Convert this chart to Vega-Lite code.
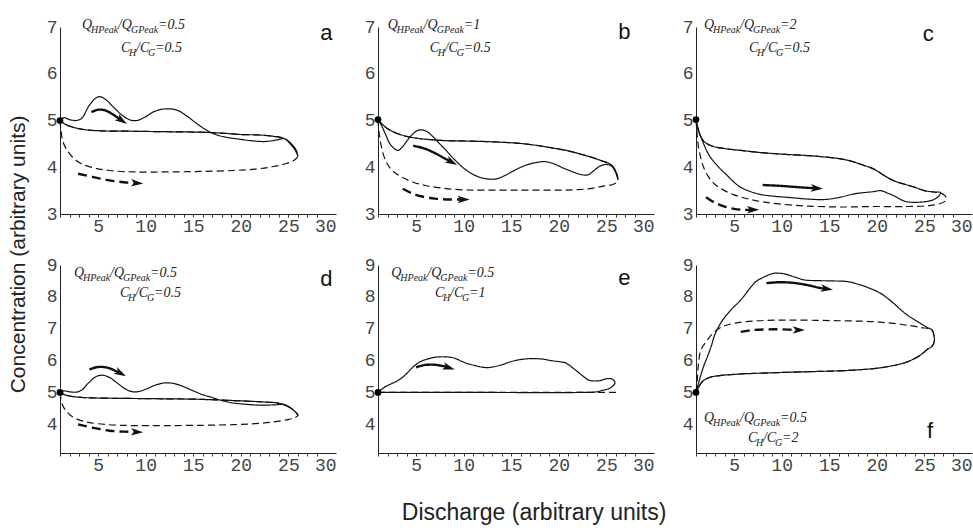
{
"$schema": "https://vega.github.io/schema/vega-lite/v6.json",
"background": "white",
"padding": {"left": 8, "top": 17, "right": 5, "bottom": 5},
"config": {"view": {"stroke": null}, "font": "Liberation Sans"},
"title": {"text": "Concentration (arbitrary units)", "orient": "left", "anchor": "middle", "font": "Liberation Sans", "fontSize": 21, "fontWeight": "normal", "color": "#222", "offset": 17, "dx": 17},
"spacing": 21,
"datasets": {
"r1": [
{"p":"a","k":"c","d":"s","i":1,"x":1,"y":5},
{"p":"a","k":"c","d":"s","i":2,"x":1.4,"y":5.06},
{"p":"a","k":"c","d":"s","i":3,"x":2,"y":5.02},
{"p":"a","k":"c","d":"s","i":4,"x":2.7,"y":5},
{"p":"a","k":"c","d":"s","i":5,"x":3.3,"y":5.05},
{"p":"a","k":"c","d":"s","i":6,"x":4,"y":5.3},
{"p":"a","k":"c","d":"s","i":7,"x":4.7,"y":5.47},
{"p":"a","k":"c","d":"s","i":8,"x":5.2,"y":5.51},
{"p":"a","k":"c","d":"s","i":9,"x":5.8,"y":5.45},
{"p":"a","k":"c","d":"s","i":10,"x":6.7,"y":5.27},
{"p":"a","k":"c","d":"s","i":11,"x":7.6,"y":5.1},
{"p":"a","k":"c","d":"s","i":12,"x":8.4,"y":5.01},
{"p":"a","k":"c","d":"s","i":13,"x":9.1,"y":5},
{"p":"a","k":"c","d":"s","i":14,"x":9.9,"y":5.07},
{"p":"a","k":"c","d":"s","i":15,"x":11,"y":5.2},
{"p":"a","k":"c","d":"s","i":16,"x":12.2,"y":5.25},
{"p":"a","k":"c","d":"s","i":17,"x":13.3,"y":5.22},
{"p":"a","k":"c","d":"s","i":18,"x":14.3,"y":5.1},
{"p":"a","k":"c","d":"s","i":19,"x":15.4,"y":4.93},
{"p":"a","k":"c","d":"s","i":20,"x":16.5,"y":4.78},
{"p":"a","k":"c","d":"s","i":21,"x":17.5,"y":4.69},
{"p":"a","k":"c","d":"s","i":22,"x":18.5,"y":4.64},
{"p":"a","k":"c","d":"s","i":23,"x":19.5,"y":4.61},
{"p":"a","k":"c","d":"s","i":24,"x":21,"y":4.57},
{"p":"a","k":"c","d":"s","i":25,"x":22.5,"y":4.55},
{"p":"a","k":"c","d":"s","i":26,"x":23.7,"y":4.58},
{"p":"a","k":"c","d":"s","i":27,"x":24.6,"y":4.61},
{"p":"a","k":"c","d":"s","i":28,"x":25.2,"y":4.5},
{"p":"a","k":"c","d":"s","i":29,"x":25.7,"y":4.37},
{"p":"a","k":"c","d":"s","i":30,"x":26,"y":4.24},
{"p":"a","k":"c","d":"s","i":31,"x":25.7,"y":4.4},
{"p":"a","k":"c","d":"s","i":32,"x":25.2,"y":4.52},
{"p":"a","k":"c","d":"s","i":33,"x":24.5,"y":4.62},
{"p":"a","k":"c","d":"s","i":34,"x":23.5,"y":4.66},
{"p":"a","k":"c","d":"s","i":35,"x":22,"y":4.69},
{"p":"a","k":"c","d":"s","i":36,"x":20,"y":4.7},
{"p":"a","k":"c","d":"s","i":37,"x":18,"y":4.73},
{"p":"a","k":"c","d":"s","i":38,"x":15.7,"y":4.75},
{"p":"a","k":"c","d":"s","i":39,"x":12.2,"y":4.76},
{"p":"a","k":"c","d":"s","i":40,"x":8.7,"y":4.77},
{"p":"a","k":"c","d":"s","i":41,"x":5.2,"y":4.78},
{"p":"a","k":"c","d":"s","i":42,"x":3.4,"y":4.81},
{"p":"a","k":"c","d":"s","i":43,"x":2,"y":4.88},
{"p":"a","k":"c","d":"s","i":44,"x":1.4,"y":4.94},
{"p":"a","k":"c","d":"s","i":45,"x":1,"y":5},
{"p":"a","k":"c","d":"d","i":1,"x":1,"y":5},
{"p":"a","k":"c","d":"d","i":2,"x":1.1,"y":4.8},
{"p":"a","k":"c","d":"d","i":3,"x":1.3,"y":4.55},
{"p":"a","k":"c","d":"d","i":4,"x":1.7,"y":4.38},
{"p":"a","k":"c","d":"d","i":5,"x":2.3,"y":4.22},
{"p":"a","k":"c","d":"d","i":6,"x":3.2,"y":4.08},
{"p":"a","k":"c","d":"d","i":7,"x":4.5,"y":3.99},
{"p":"a","k":"c","d":"d","i":8,"x":6.2,"y":3.93},
{"p":"a","k":"c","d":"d","i":9,"x":8.7,"y":3.9},
{"p":"a","k":"c","d":"d","i":10,"x":12.2,"y":3.9},
{"p":"a","k":"c","d":"d","i":11,"x":15.7,"y":3.91},
{"p":"a","k":"c","d":"d","i":12,"x":19.2,"y":3.93},
{"p":"a","k":"c","d":"d","i":13,"x":21.5,"y":3.96},
{"p":"a","k":"c","d":"d","i":14,"x":23.3,"y":4.01},
{"p":"a","k":"c","d":"d","i":15,"x":24.8,"y":4.08},
{"p":"a","k":"c","d":"d","i":16,"x":25.6,"y":4.15},
{"p":"a","k":"c","d":"d","i":17,"x":26,"y":4.24},
{"p":"a","k":"c","d":"d","i":18,"x":25.7,"y":4.4},
{"p":"a","k":"c","d":"d","i":19,"x":25.2,"y":4.52},
{"p":"a","k":"c","d":"d","i":20,"x":24.5,"y":4.62},
{"p":"a","k":"c","d":"d","i":21,"x":23.5,"y":4.66},
{"p":"a","k":"c","d":"d","i":22,"x":22,"y":4.69},
{"p":"a","k":"c","d":"d","i":23,"x":20,"y":4.7},
{"p":"a","k":"c","d":"d","i":24,"x":18,"y":4.73},
{"p":"a","k":"c","d":"d","i":25,"x":15.7,"y":4.75},
{"p":"a","k":"c","d":"d","i":26,"x":12.2,"y":4.76},
{"p":"a","k":"c","d":"d","i":27,"x":8.7,"y":4.77},
{"p":"a","k":"c","d":"d","i":28,"x":5.2,"y":4.78},
{"p":"a","k":"c","d":"d","i":29,"x":3.4,"y":4.81},
{"p":"a","k":"c","d":"d","i":30,"x":2,"y":4.88},
{"p":"a","k":"c","d":"d","i":31,"x":1.4,"y":4.94},
{"p":"a","k":"c","d":"d","i":32,"x":1,"y":5},
{"p":"a","k":"r","d":"s","i":1,"x":4.3,"y":5.18},
{"p":"a","k":"r","d":"s","i":2,"x":5,"y":5.23},
{"p":"a","k":"r","d":"s","i":3,"x":5.7,"y":5.22},
{"p":"a","k":"r","d":"s","i":4,"x":6.4,"y":5.15},
{"p":"a","k":"r","d":"s","i":5,"x":7,"y":5.07},
{"p":"a","k":"r","d":"s","i":6,"x":7.5,"y":5},
{"p":"a","k":"r","d":"d","i":1,"x":2.9,"y":3.86},
{"p":"a","k":"r","d":"d","i":2,"x":4.5,"y":3.79},
{"p":"a","k":"r","d":"d","i":3,"x":6.2,"y":3.72},
{"p":"a","k":"r","d":"d","i":4,"x":7.7,"y":3.68},
{"p":"a","k":"r","d":"d","i":5,"x":9.1,"y":3.66},
{"p":"a","k":"h","x":7.5,"y":5,"a":34},
{"p":"a","k":"h","x":9.1,"y":3.66,"a":3},
{"p":"a","k":"o","x":1,"y":5},
{"p":"a","k":"q","x":3.31,"y":6.96,"v":"=0.5"},
{"p":"a","k":"cc","x":7.41,"y":6.46,"v":"=0.5"},
{"p":"a","k":"l","x":29,"y":6.87,"t":"a"},

{"p":"b","k":"c","d":"s","i":1,"x":1,"y":5.02},
{"p":"b","k":"c","d":"s","i":2,"x":1.4,"y":4.88},
{"p":"b","k":"c","d":"s","i":3,"x":1.8,"y":4.7},
{"p":"b","k":"c","d":"s","i":4,"x":2.2,"y":4.52},
{"p":"b","k":"c","d":"s","i":5,"x":2.7,"y":4.4},
{"p":"b","k":"c","d":"s","i":6,"x":3.1,"y":4.36},
{"p":"b","k":"c","d":"s","i":7,"x":3.5,"y":4.42},
{"p":"b","k":"c","d":"s","i":8,"x":4.1,"y":4.58},
{"p":"b","k":"c","d":"s","i":9,"x":4.7,"y":4.72},
{"p":"b","k":"c","d":"s","i":10,"x":5.2,"y":4.79},
{"p":"b","k":"c","d":"s","i":11,"x":5.6,"y":4.8},
{"p":"b","k":"c","d":"s","i":12,"x":6.1,"y":4.77},
{"p":"b","k":"c","d":"s","i":13,"x":6.7,"y":4.67},
{"p":"b","k":"c","d":"s","i":14,"x":7.4,"y":4.52},
{"p":"b","k":"c","d":"s","i":15,"x":8.2,"y":4.35},
{"p":"b","k":"c","d":"s","i":16,"x":9.2,"y":4.13},
{"p":"b","k":"c","d":"s","i":17,"x":10.4,"y":3.92},
{"p":"b","k":"c","d":"s","i":18,"x":11.5,"y":3.8},
{"p":"b","k":"c","d":"s","i":19,"x":12.5,"y":3.75},
{"p":"b","k":"c","d":"s","i":20,"x":13.4,"y":3.75},
{"p":"b","k":"c","d":"s","i":21,"x":14.4,"y":3.83},
{"p":"b","k":"c","d":"s","i":22,"x":15.5,"y":3.95},
{"p":"b","k":"c","d":"s","i":23,"x":16.6,"y":4.05},
{"p":"b","k":"c","d":"s","i":24,"x":17.6,"y":4.1},
{"p":"b","k":"c","d":"s","i":25,"x":18.5,"y":4.12},
{"p":"b","k":"c","d":"s","i":26,"x":19.4,"y":4.08},
{"p":"b","k":"c","d":"s","i":27,"x":20.5,"y":3.98},
{"p":"b","k":"c","d":"s","i":28,"x":21.5,"y":3.9},
{"p":"b","k":"c","d":"s","i":29,"x":22.4,"y":3.84},
{"p":"b","k":"c","d":"s","i":30,"x":23.1,"y":3.84},
{"p":"b","k":"c","d":"s","i":31,"x":23.7,"y":3.93},
{"p":"b","k":"c","d":"s","i":32,"x":24.3,"y":4.02},
{"p":"b","k":"c","d":"s","i":33,"x":24.9,"y":4.06},
{"p":"b","k":"c","d":"s","i":34,"x":25.5,"y":4.03},
{"p":"b","k":"c","d":"s","i":35,"x":25.9,"y":3.92},
{"p":"b","k":"c","d":"s","i":36,"x":26.2,"y":3.75},
{"p":"b","k":"c","d":"s","i":37,"x":25.9,"y":3.95},
{"p":"b","k":"c","d":"s","i":38,"x":25.3,"y":4.08},
{"p":"b","k":"c","d":"s","i":39,"x":24.6,"y":4.13},
{"p":"b","k":"c","d":"s","i":40,"x":23.5,"y":4.21},
{"p":"b","k":"c","d":"s","i":41,"x":22.3,"y":4.28},
{"p":"b","k":"c","d":"s","i":42,"x":20.8,"y":4.36},
{"p":"b","k":"c","d":"s","i":43,"x":19.4,"y":4.41},
{"p":"b","k":"c","d":"s","i":44,"x":17.6,"y":4.47},
{"p":"b","k":"c","d":"s","i":45,"x":15.9,"y":4.51},
{"p":"b","k":"c","d":"s","i":46,"x":13.5,"y":4.54},
{"p":"b","k":"c","d":"s","i":47,"x":10.5,"y":4.56},
{"p":"b","k":"c","d":"s","i":48,"x":8,"y":4.57},
{"p":"b","k":"c","d":"s","i":49,"x":5.5,"y":4.61},
{"p":"b","k":"c","d":"s","i":50,"x":4,"y":4.66},
{"p":"b","k":"c","d":"s","i":51,"x":2.8,"y":4.74},
{"p":"b","k":"c","d":"s","i":52,"x":1.9,"y":4.84},
{"p":"b","k":"c","d":"s","i":53,"x":1.4,"y":4.93},
{"p":"b","k":"c","d":"s","i":54,"x":1,"y":5.02},
{"p":"b","k":"c","d":"d","i":1,"x":1,"y":5.02},
{"p":"b","k":"c","d":"d","i":2,"x":1.1,"y":4.75},
{"p":"b","k":"c","d":"d","i":3,"x":1.3,"y":4.5},
{"p":"b","k":"c","d":"d","i":4,"x":1.6,"y":4.25},
{"p":"b","k":"c","d":"d","i":5,"x":1.95,"y":4.08},
{"p":"b","k":"c","d":"d","i":6,"x":2.5,"y":3.93},
{"p":"b","k":"c","d":"d","i":7,"x":3.4,"y":3.8},
{"p":"b","k":"c","d":"d","i":8,"x":4.7,"y":3.68},
{"p":"b","k":"c","d":"d","i":9,"x":6,"y":3.61},
{"p":"b","k":"c","d":"d","i":10,"x":7.5,"y":3.56},
{"p":"b","k":"c","d":"d","i":11,"x":9.5,"y":3.52},
{"p":"b","k":"c","d":"d","i":12,"x":12,"y":3.51},
{"p":"b","k":"c","d":"d","i":13,"x":16,"y":3.51},
{"p":"b","k":"c","d":"d","i":14,"x":20,"y":3.51},
{"p":"b","k":"c","d":"d","i":15,"x":22,"y":3.52},
{"p":"b","k":"c","d":"d","i":16,"x":23.5,"y":3.55},
{"p":"b","k":"c","d":"d","i":17,"x":24.8,"y":3.6},
{"p":"b","k":"c","d":"d","i":18,"x":25.8,"y":3.64},
{"p":"b","k":"c","d":"d","i":19,"x":26.2,"y":3.72},
{"p":"b","k":"c","d":"d","i":20,"x":25.9,"y":3.95},
{"p":"b","k":"c","d":"d","i":21,"x":25.3,"y":4.08},
{"p":"b","k":"c","d":"d","i":22,"x":24.6,"y":4.13},
{"p":"b","k":"c","d":"d","i":23,"x":23.5,"y":4.21},
{"p":"b","k":"c","d":"d","i":24,"x":22.3,"y":4.28},
{"p":"b","k":"c","d":"d","i":25,"x":20.8,"y":4.36},
{"p":"b","k":"c","d":"d","i":26,"x":19.4,"y":4.41},
{"p":"b","k":"c","d":"d","i":27,"x":17.6,"y":4.47},
{"p":"b","k":"c","d":"d","i":28,"x":15.9,"y":4.51},
{"p":"b","k":"c","d":"d","i":29,"x":13.5,"y":4.54},
{"p":"b","k":"c","d":"d","i":30,"x":10.5,"y":4.56},
{"p":"b","k":"c","d":"d","i":31,"x":8,"y":4.57},
{"p":"b","k":"c","d":"d","i":32,"x":5.5,"y":4.61},
{"p":"b","k":"c","d":"d","i":33,"x":4,"y":4.66},
{"p":"b","k":"c","d":"d","i":34,"x":2.8,"y":4.74},
{"p":"b","k":"c","d":"d","i":35,"x":1.9,"y":4.84},
{"p":"b","k":"c","d":"d","i":36,"x":1.4,"y":4.93},
{"p":"b","k":"c","d":"d","i":37,"x":1,"y":5.02},
{"p":"b","k":"r","d":"s","i":1,"x":4.7,"y":4.46},
{"p":"b","k":"r","d":"s","i":2,"x":5.9,"y":4.4},
{"p":"b","k":"r","d":"s","i":3,"x":7,"y":4.3},
{"p":"b","k":"r","d":"s","i":4,"x":8,"y":4.19},
{"p":"b","k":"r","d":"s","i":5,"x":8.75,"y":4.11},
{"p":"b","k":"r","d":"d","i":1,"x":3.6,"y":3.54},
{"p":"b","k":"r","d":"d","i":2,"x":4.5,"y":3.45},
{"p":"b","k":"r","d":"d","i":3,"x":5.5,"y":3.38},
{"p":"b","k":"r","d":"d","i":4,"x":7,"y":3.33},
{"p":"b","k":"r","d":"d","i":5,"x":8.6,"y":3.31},
{"p":"b","k":"r","d":"d","i":6,"x":10,"y":3.31},
{"p":"b","k":"h","x":8.75,"y":4.11,"a":28},
{"p":"b","k":"h","x":10,"y":3.31,"a":0},
{"p":"b","k":"o","x":1,"y":5.02},
{"p":"b","k":"q","x":2.02,"y":6.96,"v":"=1"},
{"p":"b","k":"cc","x":6.43,"y":6.46,"v":"=0.5"},
{"p":"b","k":"l","x":26.9,"y":6.89,"t":"b"},

{"p":"c","k":"c","d":"s","i":1,"x":1,"y":5.02},
{"p":"c","k":"c","d":"s","i":2,"x":1.3,"y":4.78},
{"p":"c","k":"c","d":"s","i":3,"x":1.8,"y":4.5},
{"p":"c","k":"c","d":"s","i":4,"x":2.4,"y":4.25},
{"p":"c","k":"c","d":"s","i":5,"x":3.3,"y":4.02},
{"p":"c","k":"c","d":"s","i":6,"x":4.3,"y":3.82},
{"p":"c","k":"c","d":"s","i":7,"x":5,"y":3.68},
{"p":"c","k":"c","d":"s","i":8,"x":5.7,"y":3.57},
{"p":"c","k":"c","d":"s","i":9,"x":7.5,"y":3.43},
{"p":"c","k":"c","d":"s","i":10,"x":9.2,"y":3.38},
{"p":"c","k":"c","d":"s","i":11,"x":11,"y":3.35},
{"p":"c","k":"c","d":"s","i":12,"x":12.7,"y":3.32},
{"p":"c","k":"c","d":"s","i":13,"x":14.5,"y":3.31},
{"p":"c","k":"c","d":"s","i":14,"x":16.2,"y":3.36},
{"p":"c","k":"c","d":"s","i":15,"x":17.6,"y":3.43},
{"p":"c","k":"c","d":"s","i":16,"x":19.7,"y":3.48},
{"p":"c","k":"c","d":"s","i":17,"x":20.4,"y":3.5},
{"p":"c","k":"c","d":"s","i":18,"x":21.1,"y":3.45},
{"p":"c","k":"c","d":"s","i":19,"x":21.8,"y":3.39},
{"p":"c","k":"c","d":"s","i":20,"x":22.5,"y":3.31},
{"p":"c","k":"c","d":"s","i":21,"x":23.2,"y":3.26},
{"p":"c","k":"c","d":"s","i":22,"x":25,"y":3.26},
{"p":"c","k":"c","d":"s","i":23,"x":26,"y":3.31},
{"p":"c","k":"c","d":"s","i":24,"x":26.5,"y":3.38},
{"p":"c","k":"c","d":"s","i":25,"x":26.7,"y":3.46},
{"p":"c","k":"c","d":"s","i":26,"x":26,"y":3.47},
{"p":"c","k":"c","d":"s","i":27,"x":25,"y":3.5},
{"p":"c","k":"c","d":"s","i":28,"x":24,"y":3.57},
{"p":"c","k":"c","d":"s","i":29,"x":23.2,"y":3.62},
{"p":"c","k":"c","d":"s","i":30,"x":21.8,"y":3.71},
{"p":"c","k":"c","d":"s","i":31,"x":20.8,"y":3.82},
{"p":"c","k":"c","d":"s","i":32,"x":19.7,"y":3.96},
{"p":"c","k":"c","d":"s","i":33,"x":18.5,"y":4.05},
{"p":"c","k":"c","d":"s","i":34,"x":17.3,"y":4.13},
{"p":"c","k":"c","d":"s","i":35,"x":16.2,"y":4.18},
{"p":"c","k":"c","d":"s","i":36,"x":14.5,"y":4.22},
{"p":"c","k":"c","d":"s","i":37,"x":12.7,"y":4.25},
{"p":"c","k":"c","d":"s","i":38,"x":10,"y":4.28},
{"p":"c","k":"c","d":"s","i":39,"x":7.5,"y":4.32},
{"p":"c","k":"c","d":"s","i":40,"x":5.7,"y":4.36},
{"p":"c","k":"c","d":"s","i":41,"x":4,"y":4.4},
{"p":"c","k":"c","d":"s","i":42,"x":2.6,"y":4.46},
{"p":"c","k":"c","d":"s","i":43,"x":1.8,"y":4.56},
{"p":"c","k":"c","d":"s","i":44,"x":1.3,"y":4.75},
{"p":"c","k":"c","d":"s","i":45,"x":1,"y":5.02},
{"p":"c","k":"c","d":"d","i":1,"x":1,"y":5.02},
{"p":"c","k":"c","d":"d","i":2,"x":1.1,"y":4.75},
{"p":"c","k":"c","d":"d","i":3,"x":1.25,"y":4.45},
{"p":"c","k":"c","d":"d","i":4,"x":1.5,"y":4.2},
{"p":"c","k":"c","d":"d","i":5,"x":1.8,"y":4},
{"p":"c","k":"c","d":"d","i":6,"x":2.3,"y":3.8},
{"p":"c","k":"c","d":"d","i":7,"x":3,"y":3.63},
{"p":"c","k":"c","d":"d","i":8,"x":4,"y":3.5},
{"p":"c","k":"c","d":"d","i":9,"x":5,"y":3.41},
{"p":"c","k":"c","d":"d","i":10,"x":6.5,"y":3.32},
{"p":"c","k":"c","d":"d","i":11,"x":8,"y":3.26},
{"p":"c","k":"c","d":"d","i":12,"x":10,"y":3.21},
{"p":"c","k":"c","d":"d","i":13,"x":12.7,"y":3.17},
{"p":"c","k":"c","d":"d","i":14,"x":16.2,"y":3.15},
{"p":"c","k":"c","d":"d","i":15,"x":19.7,"y":3.16},
{"p":"c","k":"c","d":"d","i":16,"x":23.2,"y":3.16},
{"p":"c","k":"c","d":"d","i":17,"x":25.5,"y":3.18},
{"p":"c","k":"c","d":"d","i":18,"x":26.6,"y":3.22},
{"p":"c","k":"c","d":"d","i":19,"x":27.2,"y":3.28},
{"p":"c","k":"c","d":"d","i":20,"x":27.3,"y":3.35},
{"p":"c","k":"c","d":"d","i":21,"x":26.9,"y":3.43},
{"p":"c","k":"c","d":"d","i":22,"x":26,"y":3.47},
{"p":"c","k":"c","d":"d","i":23,"x":25,"y":3.5},
{"p":"c","k":"c","d":"d","i":24,"x":24,"y":3.57},
{"p":"c","k":"c","d":"d","i":25,"x":23.2,"y":3.62},
{"p":"c","k":"c","d":"d","i":26,"x":21.8,"y":3.71},
{"p":"c","k":"c","d":"d","i":27,"x":20.8,"y":3.82},
{"p":"c","k":"c","d":"d","i":28,"x":19.7,"y":3.96},
{"p":"c","k":"c","d":"d","i":29,"x":18.5,"y":4.05},
{"p":"c","k":"c","d":"d","i":30,"x":17.3,"y":4.13},
{"p":"c","k":"c","d":"d","i":31,"x":16.2,"y":4.18},
{"p":"c","k":"c","d":"d","i":32,"x":14.5,"y":4.22},
{"p":"c","k":"c","d":"d","i":33,"x":12.7,"y":4.25},
{"p":"c","k":"c","d":"d","i":34,"x":10,"y":4.28},
{"p":"c","k":"c","d":"d","i":35,"x":7.5,"y":4.32},
{"p":"c","k":"c","d":"d","i":36,"x":5.7,"y":4.36},
{"p":"c","k":"c","d":"d","i":37,"x":4,"y":4.4},
{"p":"c","k":"c","d":"d","i":38,"x":2.6,"y":4.46},
{"p":"c","k":"c","d":"d","i":39,"x":1.8,"y":4.56},
{"p":"c","k":"c","d":"d","i":40,"x":1.3,"y":4.75},
{"p":"c","k":"c","d":"d","i":41,"x":1,"y":5.02},
{"p":"c","k":"r","d":"s","i":1,"x":8,"y":3.62},
{"p":"c","k":"r","d":"s","i":2,"x":10,"y":3.6},
{"p":"c","k":"r","d":"s","i":3,"x":12,"y":3.57},
{"p":"c","k":"r","d":"s","i":4,"x":13.7,"y":3.55},
{"p":"c","k":"r","d":"d","i":1,"x":2.05,"y":3.36},
{"p":"c","k":"r","d":"d","i":2,"x":3,"y":3.24},
{"p":"c","k":"r","d":"d","i":3,"x":4,"y":3.16},
{"p":"c","k":"r","d":"d","i":4,"x":5,"y":3.11},
{"p":"c","k":"r","d":"d","i":5,"x":6,"y":3.09},
{"p":"c","k":"r","d":"d","i":6,"x":7,"y":3.09},
{"p":"c","k":"h","x":13.7,"y":3.55,"a":4},
{"p":"c","k":"h","x":7,"y":3.09,"a":0},
{"p":"c","k":"o","x":1,"y":5.02},
{"p":"c","k":"q","x":1.84,"y":6.96,"v":"=2"},
{"p":"c","k":"cc","x":6.57,"y":6.46,"v":"=0.5"},
{"p":"c","k":"l","x":25.4,"y":6.85,"t":"c"}
],
"r2": [
{"p":"d","k":"c","d":"s","i":1,"x":1,"y":5},
{"p":"d","k":"c","d":"s","i":2,"x":1.4,"y":5.05},
{"p":"d","k":"c","d":"s","i":3,"x":2,"y":5.02},
{"p":"d","k":"c","d":"s","i":4,"x":2.7,"y":5.01},
{"p":"d","k":"c","d":"s","i":5,"x":3.3,"y":5.08},
{"p":"d","k":"c","d":"s","i":6,"x":4,"y":5.3},
{"p":"d","k":"c","d":"s","i":7,"x":4.8,"y":5.5},
{"p":"d","k":"c","d":"s","i":8,"x":5.5,"y":5.54},
{"p":"d","k":"c","d":"s","i":9,"x":6.2,"y":5.47},
{"p":"d","k":"c","d":"s","i":10,"x":7,"y":5.3},
{"p":"d","k":"c","d":"s","i":11,"x":7.8,"y":5.12},
{"p":"d","k":"c","d":"s","i":12,"x":8.5,"y":5.03},
{"p":"d","k":"c","d":"s","i":13,"x":9.1,"y":5.02},
{"p":"d","k":"c","d":"s","i":14,"x":10,"y":5.1},
{"p":"d","k":"c","d":"s","i":15,"x":11,"y":5.23},
{"p":"d","k":"c","d":"s","i":16,"x":12,"y":5.3},
{"p":"d","k":"c","d":"s","i":17,"x":13,"y":5.28},
{"p":"d","k":"c","d":"s","i":18,"x":14,"y":5.18},
{"p":"d","k":"c","d":"s","i":19,"x":15,"y":5.05},
{"p":"d","k":"c","d":"s","i":20,"x":16,"y":4.93},
{"p":"d","k":"c","d":"s","i":21,"x":17.1,"y":4.83},
{"p":"d","k":"c","d":"s","i":22,"x":18.2,"y":4.73},
{"p":"d","k":"c","d":"s","i":23,"x":19.2,"y":4.67},
{"p":"d","k":"c","d":"s","i":24,"x":20.5,"y":4.63},
{"p":"d","k":"c","d":"s","i":25,"x":22,"y":4.6},
{"p":"d","k":"c","d":"s","i":26,"x":23.5,"y":4.61},
{"p":"d","k":"c","d":"s","i":27,"x":24.6,"y":4.62},
{"p":"d","k":"c","d":"s","i":28,"x":25.3,"y":4.5},
{"p":"d","k":"c","d":"s","i":29,"x":25.8,"y":4.37},
{"p":"d","k":"c","d":"s","i":30,"x":26,"y":4.28},
{"p":"d","k":"c","d":"s","i":31,"x":25.6,"y":4.43},
{"p":"d","k":"c","d":"s","i":32,"x":25,"y":4.55},
{"p":"d","k":"c","d":"s","i":33,"x":24,"y":4.66},
{"p":"d","k":"c","d":"s","i":34,"x":22.5,"y":4.7},
{"p":"d","k":"c","d":"s","i":35,"x":20.5,"y":4.73},
{"p":"d","k":"c","d":"s","i":36,"x":18,"y":4.76},
{"p":"d","k":"c","d":"s","i":37,"x":15,"y":4.79},
{"p":"d","k":"c","d":"s","i":38,"x":12,"y":4.8},
{"p":"d","k":"c","d":"s","i":39,"x":9,"y":4.81},
{"p":"d","k":"c","d":"s","i":40,"x":6,"y":4.82},
{"p":"d","k":"c","d":"s","i":41,"x":3.5,"y":4.84},
{"p":"d","k":"c","d":"s","i":42,"x":2.2,"y":4.88},
{"p":"d","k":"c","d":"s","i":43,"x":1.4,"y":4.94},
{"p":"d","k":"c","d":"s","i":44,"x":1,"y":5},
{"p":"d","k":"c","d":"d","i":1,"x":1,"y":5},
{"p":"d","k":"c","d":"d","i":2,"x":1.1,"y":4.8},
{"p":"d","k":"c","d":"d","i":3,"x":1.3,"y":4.58},
{"p":"d","k":"c","d":"d","i":4,"x":1.7,"y":4.4},
{"p":"d","k":"c","d":"d","i":5,"x":2.2,"y":4.26},
{"p":"d","k":"c","d":"d","i":6,"x":3,"y":4.14},
{"p":"d","k":"c","d":"d","i":7,"x":4,"y":4.06},
{"p":"d","k":"c","d":"d","i":8,"x":6,"y":3.99},
{"p":"d","k":"c","d":"d","i":9,"x":8.7,"y":3.96},
{"p":"d","k":"c","d":"d","i":10,"x":12,"y":3.96},
{"p":"d","k":"c","d":"d","i":11,"x":16,"y":3.97},
{"p":"d","k":"c","d":"d","i":12,"x":19.2,"y":3.99},
{"p":"d","k":"c","d":"d","i":13,"x":21.5,"y":4.02},
{"p":"d","k":"c","d":"d","i":14,"x":23.3,"y":4.07},
{"p":"d","k":"c","d":"d","i":15,"x":24.8,"y":4.14},
{"p":"d","k":"c","d":"d","i":16,"x":25.6,"y":4.2},
{"p":"d","k":"c","d":"d","i":17,"x":26,"y":4.28},
{"p":"d","k":"c","d":"d","i":18,"x":25.6,"y":4.43},
{"p":"d","k":"c","d":"d","i":19,"x":25,"y":4.55},
{"p":"d","k":"c","d":"d","i":20,"x":24,"y":4.66},
{"p":"d","k":"c","d":"d","i":21,"x":22.5,"y":4.7},
{"p":"d","k":"c","d":"d","i":22,"x":20.5,"y":4.73},
{"p":"d","k":"c","d":"d","i":23,"x":18,"y":4.76},
{"p":"d","k":"c","d":"d","i":24,"x":15,"y":4.79},
{"p":"d","k":"c","d":"d","i":25,"x":12,"y":4.8},
{"p":"d","k":"c","d":"d","i":26,"x":9,"y":4.81},
{"p":"d","k":"c","d":"d","i":27,"x":6,"y":4.82},
{"p":"d","k":"c","d":"d","i":28,"x":3.5,"y":4.84},
{"p":"d","k":"c","d":"d","i":29,"x":2.2,"y":4.88},
{"p":"d","k":"c","d":"d","i":30,"x":1.4,"y":4.94},
{"p":"d","k":"c","d":"d","i":31,"x":1,"y":5},
{"p":"d","k":"r","d":"s","i":1,"x":4.1,"y":5.72},
{"p":"d","k":"r","d":"s","i":2,"x":4.8,"y":5.79},
{"p":"d","k":"r","d":"s","i":3,"x":5.5,"y":5.8},
{"p":"d","k":"r","d":"s","i":4,"x":6.2,"y":5.76},
{"p":"d","k":"r","d":"s","i":5,"x":6.8,"y":5.68},
{"p":"d","k":"r","d":"s","i":6,"x":7.37,"y":5.6},
{"p":"d","k":"r","d":"d","i":1,"x":2.9,"y":4},
{"p":"d","k":"r","d":"d","i":2,"x":4.5,"y":3.89},
{"p":"d","k":"r","d":"d","i":3,"x":6.2,"y":3.8},
{"p":"d","k":"r","d":"d","i":4,"x":7.7,"y":3.77},
{"p":"d","k":"r","d":"d","i":5,"x":9.1,"y":3.76},
{"p":"d","k":"h","x":7.37,"y":5.6,"a":28},
{"p":"d","k":"h","x":9.1,"y":3.76,"a":2},
{"p":"d","k":"o","x":1,"y":5},
{"p":"d","k":"q","x":2.47,"y":8.62,"v":"=0.5"},
{"p":"d","k":"cc","x":7.3,"y":8,"v":"=0.5"},
{"p":"d","k":"l","x":29,"y":8.56,"t":"d"},

{"p":"e","k":"c","d":"s","i":1,"x":1,"y":5},
{"p":"e","k":"c","d":"s","i":2,"x":1.6,"y":5.15},
{"p":"e","k":"c","d":"s","i":3,"x":2.3,"y":5.26},
{"p":"e","k":"c","d":"s","i":4,"x":3,"y":5.36},
{"p":"e","k":"c","d":"s","i":5,"x":3.6,"y":5.48},
{"p":"e","k":"c","d":"s","i":6,"x":4.1,"y":5.62},
{"p":"e","k":"c","d":"s","i":7,"x":4.8,"y":5.83},
{"p":"e","k":"c","d":"s","i":8,"x":5.3,"y":5.94},
{"p":"e","k":"c","d":"s","i":9,"x":5.8,"y":6.01},
{"p":"e","k":"c","d":"s","i":10,"x":6.9,"y":6.1},
{"p":"e","k":"c","d":"s","i":11,"x":7.9,"y":6.12},
{"p":"e","k":"c","d":"s","i":12,"x":9,"y":6.08},
{"p":"e","k":"c","d":"s","i":13,"x":10,"y":5.95},
{"p":"e","k":"c","d":"s","i":14,"x":11.1,"y":5.85},
{"p":"e","k":"c","d":"s","i":15,"x":12.5,"y":5.78},
{"p":"e","k":"c","d":"s","i":16,"x":13.9,"y":5.86},
{"p":"e","k":"c","d":"s","i":17,"x":15,"y":5.97},
{"p":"e","k":"c","d":"s","i":18,"x":15.9,"y":6.03},
{"p":"e","k":"c","d":"s","i":19,"x":17,"y":6.06},
{"p":"e","k":"c","d":"s","i":20,"x":18.2,"y":6.05},
{"p":"e","k":"c","d":"s","i":21,"x":19.2,"y":6},
{"p":"e","k":"c","d":"s","i":22,"x":20.2,"y":5.96},
{"p":"e","k":"c","d":"s","i":23,"x":20.7,"y":5.93},
{"p":"e","k":"c","d":"s","i":24,"x":21.6,"y":5.74},
{"p":"e","k":"c","d":"s","i":25,"x":22.6,"y":5.5},
{"p":"e","k":"c","d":"s","i":26,"x":23.2,"y":5.38},
{"p":"e","k":"c","d":"s","i":27,"x":24.3,"y":5.37},
{"p":"e","k":"c","d":"s","i":28,"x":25,"y":5.43},
{"p":"e","k":"c","d":"s","i":29,"x":25.6,"y":5.42},
{"p":"e","k":"c","d":"s","i":30,"x":25.9,"y":5.3},
{"p":"e","k":"c","d":"s","i":31,"x":25.4,"y":5.14},
{"p":"e","k":"c","d":"s","i":32,"x":24.5,"y":5.06},
{"p":"e","k":"c","d":"s","i":33,"x":24,"y":5.02},
{"p":"e","k":"c","d":"s","i":34,"x":22,"y":5},
{"p":"e","k":"c","d":"s","i":35,"x":12,"y":5},
{"p":"e","k":"c","d":"s","i":36,"x":1,"y":5},
{"p":"e","k":"c","d":"d","i":1,"x":1,"y":5},
{"p":"e","k":"c","d":"d","i":2,"x":26.3,"y":5},
{"p":"e","k":"r","d":"s","i":1,"x":5,"y":5.79},
{"p":"e","k":"r","d":"s","i":2,"x":5.9,"y":5.86},
{"p":"e","k":"r","d":"s","i":3,"x":6.9,"y":5.87},
{"p":"e","k":"r","d":"s","i":4,"x":7.8,"y":5.83},
{"p":"e","k":"r","d":"s","i":5,"x":8.45,"y":5.78},
{"p":"e","k":"h","x":8.45,"y":5.78,"a":17},
{"p":"e","k":"o","x":1,"y":5},
{"p":"e","k":"q","x":2.4,"y":8.62,"v":"=0.5"},
{"p":"e","k":"cc","x":7,"y":8,"v":"=1"},
{"p":"e","k":"l","x":26.9,"y":8.59,"t":"e"},

{"p":"f","k":"c","d":"s","i":1,"x":1,"y":5},
{"p":"f","k":"c","d":"s","i":2,"x":1.5,"y":5.54},
{"p":"f","k":"c","d":"s","i":3,"x":1.9,"y":5.9},
{"p":"f","k":"c","d":"s","i":4,"x":2.2,"y":6.12},
{"p":"f","k":"c","d":"s","i":5,"x":2.6,"y":6.45},
{"p":"f","k":"c","d":"s","i":6,"x":2.9,"y":6.75},
{"p":"f","k":"c","d":"s","i":7,"x":3.3,"y":7.02},
{"p":"f","k":"c","d":"s","i":8,"x":3.8,"y":7.27},
{"p":"f","k":"c","d":"s","i":9,"x":4.7,"y":7.6},
{"p":"f","k":"c","d":"s","i":10,"x":5.7,"y":7.9},
{"p":"f","k":"c","d":"s","i":11,"x":6.8,"y":8.32},
{"p":"f","k":"c","d":"s","i":12,"x":7.3,"y":8.48},
{"p":"f","k":"c","d":"s","i":13,"x":8.2,"y":8.63},
{"p":"f","k":"c","d":"s","i":14,"x":9.2,"y":8.74},
{"p":"f","k":"c","d":"s","i":15,"x":10.3,"y":8.72},
{"p":"f","k":"c","d":"s","i":16,"x":11.3,"y":8.63},
{"p":"f","k":"c","d":"s","i":17,"x":12.4,"y":8.53},
{"p":"f","k":"c","d":"s","i":18,"x":13.8,"y":8.51},
{"p":"f","k":"c","d":"s","i":19,"x":15.5,"y":8.5},
{"p":"f","k":"c","d":"s","i":20,"x":16.9,"y":8.48},
{"p":"f","k":"c","d":"s","i":21,"x":18,"y":8.4},
{"p":"f","k":"c","d":"s","i":22,"x":19,"y":8.3},
{"p":"f","k":"c","d":"s","i":23,"x":20.4,"y":8.11},
{"p":"f","k":"c","d":"s","i":24,"x":21.1,"y":7.96},
{"p":"f","k":"c","d":"s","i":25,"x":21.8,"y":7.79},
{"p":"f","k":"c","d":"s","i":26,"x":22.5,"y":7.6},
{"p":"f","k":"c","d":"s","i":27,"x":23.2,"y":7.43},
{"p":"f","k":"c","d":"s","i":28,"x":24.3,"y":7.22},
{"p":"f","k":"c","d":"s","i":29,"x":25.3,"y":7.04},
{"p":"f","k":"c","d":"s","i":30,"x":25.8,"y":6.96},
{"p":"f","k":"c","d":"s","i":31,"x":26,"y":6.78},
{"p":"f","k":"c","d":"s","i":32,"x":26.05,"y":6.62},
{"p":"f","k":"c","d":"s","i":33,"x":25.8,"y":6.45},
{"p":"f","k":"c","d":"s","i":34,"x":25.3,"y":6.35},
{"p":"f","k":"c","d":"s","i":35,"x":24.7,"y":6.2},
{"p":"f","k":"c","d":"s","i":36,"x":24,"y":6.07},
{"p":"f","k":"c","d":"s","i":37,"x":23,"y":5.94},
{"p":"f","k":"c","d":"s","i":38,"x":21.5,"y":5.83},
{"p":"f","k":"c","d":"s","i":39,"x":19.7,"y":5.75},
{"p":"f","k":"c","d":"s","i":40,"x":17.5,"y":5.7},
{"p":"f","k":"c","d":"s","i":41,"x":16.2,"y":5.68},
{"p":"f","k":"c","d":"s","i":42,"x":12.7,"y":5.65},
{"p":"f","k":"c","d":"s","i":43,"x":9.2,"y":5.62},
{"p":"f","k":"c","d":"s","i":44,"x":5.7,"y":5.58},
{"p":"f","k":"c","d":"s","i":45,"x":3.5,"y":5.53},
{"p":"f","k":"c","d":"s","i":46,"x":2.4,"y":5.47},
{"p":"f","k":"c","d":"s","i":47,"x":1.7,"y":5.35},
{"p":"f","k":"c","d":"s","i":48,"x":1.3,"y":5.18},
{"p":"f","k":"c","d":"s","i":49,"x":1,"y":5},
{"p":"f","k":"c","d":"d","i":1,"x":1,"y":5},
{"p":"f","k":"c","d":"d","i":2,"x":1.1,"y":5.28},
{"p":"f","k":"c","d":"d","i":3,"x":1.25,"y":5.86},
{"p":"f","k":"c","d":"d","i":4,"x":1.5,"y":6.33},
{"p":"f","k":"c","d":"d","i":5,"x":2.05,"y":6.59},
{"p":"f","k":"c","d":"d","i":6,"x":2.75,"y":6.85},
{"p":"f","k":"c","d":"d","i":7,"x":3.6,"y":7.04},
{"p":"f","k":"c","d":"d","i":8,"x":5,"y":7.17},
{"p":"f","k":"c","d":"d","i":9,"x":7.5,"y":7.25},
{"p":"f","k":"c","d":"d","i":10,"x":11,"y":7.27},
{"p":"f","k":"c","d":"d","i":11,"x":16.2,"y":7.25},
{"p":"f","k":"c","d":"d","i":12,"x":19.7,"y":7.22},
{"p":"f","k":"c","d":"d","i":13,"x":22.5,"y":7.14},
{"p":"f","k":"c","d":"d","i":14,"x":24.6,"y":7.04},
{"p":"f","k":"c","d":"d","i":15,"x":25.8,"y":6.96},
{"p":"f","k":"c","d":"d","i":16,"x":26,"y":6.78},
{"p":"f","k":"c","d":"d","i":17,"x":26.05,"y":6.62},
{"p":"f","k":"c","d":"d","i":18,"x":25.8,"y":6.45},
{"p":"f","k":"c","d":"d","i":19,"x":25.3,"y":6.35},
{"p":"f","k":"c","d":"d","i":20,"x":24.7,"y":6.2},
{"p":"f","k":"c","d":"d","i":21,"x":24,"y":6.07},
{"p":"f","k":"c","d":"d","i":22,"x":23,"y":5.94},
{"p":"f","k":"c","d":"d","i":23,"x":21.5,"y":5.83},
{"p":"f","k":"c","d":"d","i":24,"x":19.7,"y":5.75},
{"p":"f","k":"c","d":"d","i":25,"x":17.5,"y":5.7},
{"p":"f","k":"c","d":"d","i":26,"x":16.2,"y":5.68},
{"p":"f","k":"c","d":"d","i":27,"x":12.7,"y":5.65},
{"p":"f","k":"c","d":"d","i":28,"x":9.2,"y":5.62},
{"p":"f","k":"c","d":"d","i":29,"x":5.7,"y":5.58},
{"p":"f","k":"c","d":"d","i":30,"x":3.5,"y":5.53},
{"p":"f","k":"c","d":"d","i":31,"x":2.4,"y":5.47},
{"p":"f","k":"c","d":"d","i":32,"x":1.7,"y":5.35},
{"p":"f","k":"c","d":"d","i":33,"x":1.3,"y":5.18},
{"p":"f","k":"c","d":"d","i":34,"x":1,"y":5},
{"p":"f","k":"r","d":"s","i":1,"x":8.4,"y":8.43},
{"p":"f","k":"r","d":"s","i":2,"x":9.8,"y":8.46},
{"p":"f","k":"r","d":"s","i":3,"x":11.5,"y":8.43},
{"p":"f","k":"r","d":"s","i":4,"x":13,"y":8.35},
{"p":"f","k":"r","d":"s","i":5,"x":14,"y":8.28},
{"p":"f","k":"r","d":"s","i":6,"x":14.75,"y":8.25},
{"p":"f","k":"r","d":"d","i":1,"x":5.7,"y":6.9},
{"p":"f","k":"r","d":"d","i":2,"x":7,"y":6.96},
{"p":"f","k":"r","d":"d","i":3,"x":8.5,"y":6.98},
{"p":"f","k":"r","d":"d","i":4,"x":10,"y":6.98},
{"p":"f","k":"r","d":"d","i":5,"x":11.8,"y":6.96},
{"p":"f","k":"h","x":14.75,"y":8.25,"a":8},
{"p":"f","k":"h","x":11.8,"y":6.96,"a":0},
{"p":"f","k":"o","x":1,"y":5},
{"p":"f","k":"q","x":1.84,"y":4.06,"v":"=0.5"},
{"p":"f","k":"cc","x":6.46,"y":3.43,"v":"=2"},
{"p":"f","k":"l","x":25.6,"y":3.78,"t":"f"}
]
},
"vconcat": [
{
"data": {"name": "r1"},
"facet": {"column": {"field": "p", "type": "nominal", "header": null}},
"spacing": {"column": 42},
"bounds": "flush",
"resolve": {"axis": {"y": "independent"}},
"spec": {
"width": 276, "height": 187,
"encoding": {
"x": {"field": "x", "type": "quantitative", "scale": {"domain": [1, 30], "nice": false, "zero": false}, "axis": {"title": null, "values": [1,2,3,4,5,6,7,8,9,10,11,12,13,14,15,16,17,18,19,20,21,22,23,24,25,26,27,28,29,30], "labelExpr": "datum.value % 5 === 0 ? datum.label : ''", "tickSize": 3, "tickColor": "#333", "tickOpacity": {"condition": {"test": "datum.value > 28.6", "value": 0}, "value": 1}, "labelPadding": 0, "labelFont": "Liberation Mono", "labelFontSize": 18, "labelColor": "#444", "domainColor": "#222", "grid": false, "labelOverlap": false}},
"y": {"field": "y", "type": "quantitative", "scale": {"domain": [3, 7], "nice": false, "zero": false}, "axis": {"title": null, "values": [3,4,5,6,7], "ticks": false, "tickSize": 0, "labelPadding": 3, "labelFont": "Liberation Mono", "labelFontSize": 18, "labelColor": "#444", "domainColor": "#222", "grid": false, "labelOverlap": false}}
},
"layer": [
{"transform": [{"filter": "datum.k==='c'"}], "mark": {"type": "line", "interpolate": "catmull-rom", "strokeWidth": 1.2, "color": "#111"}, "encoding": {"detail": {"field": "d", "type": "nominal"}, "order": {"field": "i", "type": "quantitative"}, "strokeDash": {"condition": {"test": "datum.d==='d'", "value": [7,4]}, "value": [1,0]}}},
{"transform": [{"filter": "datum.k==='r'"}], "mark": {"type": "line", "interpolate": "catmull-rom", "strokeWidth": 2.4, "color": "#111"}, "encoding": {"detail": {"field": "d", "type": "nominal"}, "order": {"field": "i", "type": "quantitative"}, "strokeDash": {"condition": {"test": "datum.d==='d'", "value": [9,5]}, "value": [1,0]}}},
{"transform": [{"filter": "datum.k==='h'"}], "mark": {"type": "point", "filled": true, "opacity": 1, "color": "#111", "size": 150, "shape": "M1,0L-1,-0.62L-0.5,0L-1,0.62Z"}, "encoding": {"angle": {"field": "a", "type": "quantitative", "scale": null}}},
{"transform": [{"filter": "datum.k==='o'"}], "mark": {"type": "point", "filled": true, "opacity": 1, "color": "#000", "size": 45}},
{"transform": [{"filter": "datum.k==='l'"}], "mark": {"type": "text", "font": "Liberation Sans", "fontSize": 22, "align": "center", "baseline": "middle", "color": "#111"}, "encoding": {"text": {"field": "t", "type": "nominal"}}},
{"transform": [{"filter": "datum.k==='q'"}], "mark": {"type": "text", "text": "Q", "font": "Liberation Serif", "fontStyle": "italic", "fontSize": 14, "align": "left", "baseline": "alphabetic", "color": "#222"}},
{"transform": [{"filter": "datum.k==='q'"}], "mark": {"type": "text", "text": "HPeak", "font": "Liberation Serif", "fontStyle": "italic", "fontSize": 10, "align": "left", "baseline": "alphabetic", "color": "#222", "dx": 9, "dy": 4}},
{"transform": [{"filter": "datum.k==='q'"}], "mark": {"type": "text", "text": "/Q", "font": "Liberation Serif", "fontStyle": "italic", "fontSize": 14, "align": "left", "baseline": "alphabetic", "color": "#222", "dx": 36}},
{"transform": [{"filter": "datum.k==='q'"}], "mark": {"type": "text", "text": "GPeak", "font": "Liberation Serif", "fontStyle": "italic", "fontSize": 10, "align": "left", "baseline": "alphabetic", "color": "#222", "dx": 49, "dy": 4}},
{"transform": [{"filter": "datum.k==='q'"}], "mark": {"type": "text", "font": "Liberation Serif", "fontStyle": "italic", "fontSize": 14, "align": "left", "baseline": "alphabetic", "color": "#222", "dx": 76}, "encoding": {"text": {"field": "v", "type": "nominal"}}},
{"transform": [{"filter": "datum.k==='cc'"}], "mark": {"type": "text", "text": "C", "font": "Liberation Serif", "fontStyle": "italic", "fontSize": 14, "align": "left", "baseline": "alphabetic", "color": "#222"}},
{"transform": [{"filter": "datum.k==='cc'"}], "mark": {"type": "text", "text": "H", "font": "Liberation Serif", "fontStyle": "italic", "fontSize": 10, "align": "left", "baseline": "alphabetic", "color": "#222", "dx": 8, "dy": 4}},
{"transform": [{"filter": "datum.k==='cc'"}], "mark": {"type": "text", "text": "/C", "font": "Liberation Serif", "fontStyle": "italic", "fontSize": 14, "align": "left", "baseline": "alphabetic", "color": "#222", "dx": 15}},
{"transform": [{"filter": "datum.k==='cc'"}], "mark": {"type": "text", "text": "G", "font": "Liberation Serif", "fontStyle": "italic", "fontSize": 10, "align": "left", "baseline": "alphabetic", "color": "#222", "dx": 27, "dy": 4}},
{"transform": [{"filter": "datum.k==='cc'"}], "mark": {"type": "text", "font": "Liberation Serif", "fontStyle": "italic", "fontSize": 14, "align": "left", "baseline": "alphabetic", "color": "#222", "dx": 34}, "encoding": {"text": {"field": "v", "type": "nominal"}}}
]
}
},
{
"data": {"name": "r2"},
"title": {"text": "Discharge (arbitrary units)", "orient": "bottom", "anchor": "middle", "font": "Liberation Sans", "fontSize": 23, "fontWeight": "normal", "color": "#222", "offset": 28, "dx": 25},
"facet": {"column": {"field": "p", "type": "nominal", "header": null}},
"spacing": {"column": 42},
"bounds": "flush",
"resolve": {"axis": {"y": "independent"}},
"spec": {
"width": 276, "height": 188,
"encoding": {
"x": {"field": "x", "type": "quantitative", "scale": {"domain": [1, 30], "nice": false, "zero": false}, "axis": {"title": null, "values": [1,2,3,4,5,6,7,8,9,10,11,12,13,14,15,16,17,18,19,20,21,22,23,24,25,26,27,28,29,30], "labelExpr": "datum.value % 5 === 0 ? datum.label : ''", "tickSize": 3, "tickColor": "#333", "tickOpacity": {"condition": {"test": "datum.value > 28.6", "value": 0}, "value": 1}, "labelPadding": 0, "labelFont": "Liberation Mono", "labelFontSize": 18, "labelColor": "#444", "domainColor": "#222", "grid": false, "labelOverlap": false}},
"y": {"field": "y", "type": "quantitative", "scale": {"domain": [3.1, 9], "nice": false, "zero": false}, "axis": {"title": null, "values": [4,5,6,7,8,9], "ticks": false, "tickSize": 0, "labelPadding": 3, "labelFont": "Liberation Mono", "labelFontSize": 18, "labelColor": "#444", "domainColor": "#222", "grid": false, "labelOverlap": false}}
},
"layer": [
{"transform": [{"filter": "datum.k==='c'"}], "mark": {"type": "line", "interpolate": "catmull-rom", "strokeWidth": 1.2, "color": "#111"}, "encoding": {"detail": {"field": "d", "type": "nominal"}, "order": {"field": "i", "type": "quantitative"}, "strokeDash": {"condition": {"test": "datum.d==='d'", "value": [7,4]}, "value": [1,0]}}},
{"transform": [{"filter": "datum.k==='r'"}], "mark": {"type": "line", "interpolate": "catmull-rom", "strokeWidth": 2.4, "color": "#111"}, "encoding": {"detail": {"field": "d", "type": "nominal"}, "order": {"field": "i", "type": "quantitative"}, "strokeDash": {"condition": {"test": "datum.d==='d'", "value": [9,5]}, "value": [1,0]}}},
{"transform": [{"filter": "datum.k==='h'"}], "mark": {"type": "point", "filled": true, "opacity": 1, "color": "#111", "size": 150, "shape": "M1,0L-1,-0.62L-0.5,0L-1,0.62Z"}, "encoding": {"angle": {"field": "a", "type": "quantitative", "scale": null}}},
{"transform": [{"filter": "datum.k==='o'"}], "mark": {"type": "point", "filled": true, "opacity": 1, "color": "#000", "size": 45}},
{"transform": [{"filter": "datum.k==='l'"}], "mark": {"type": "text", "font": "Liberation Sans", "fontSize": 22, "align": "center", "baseline": "middle", "color": "#111"}, "encoding": {"text": {"field": "t", "type": "nominal"}}},
{"transform": [{"filter": "datum.k==='q'"}], "mark": {"type": "text", "text": "Q", "font": "Liberation Serif", "fontStyle": "italic", "fontSize": 14, "align": "left", "baseline": "alphabetic", "color": "#222"}},
{"transform": [{"filter": "datum.k==='q'"}], "mark": {"type": "text", "text": "HPeak", "font": "Liberation Serif", "fontStyle": "italic", "fontSize": 10, "align": "left", "baseline": "alphabetic", "color": "#222", "dx": 9, "dy": 4}},
{"transform": [{"filter": "datum.k==='q'"}], "mark": {"type": "text", "text": "/Q", "font": "Liberation Serif", "fontStyle": "italic", "fontSize": 14, "align": "left", "baseline": "alphabetic", "color": "#222", "dx": 36}},
{"transform": [{"filter": "datum.k==='q'"}], "mark": {"type": "text", "text": "GPeak", "font": "Liberation Serif", "fontStyle": "italic", "fontSize": 10, "align": "left", "baseline": "alphabetic", "color": "#222", "dx": 49, "dy": 4}},
{"transform": [{"filter": "datum.k==='q'"}], "mark": {"type": "text", "font": "Liberation Serif", "fontStyle": "italic", "fontSize": 14, "align": "left", "baseline": "alphabetic", "color": "#222", "dx": 76}, "encoding": {"text": {"field": "v", "type": "nominal"}}},
{"transform": [{"filter": "datum.k==='cc'"}], "mark": {"type": "text", "text": "C", "font": "Liberation Serif", "fontStyle": "italic", "fontSize": 14, "align": "left", "baseline": "alphabetic", "color": "#222"}},
{"transform": [{"filter": "datum.k==='cc'"}], "mark": {"type": "text", "text": "H", "font": "Liberation Serif", "fontStyle": "italic", "fontSize": 10, "align": "left", "baseline": "alphabetic", "color": "#222", "dx": 8, "dy": 4}},
{"transform": [{"filter": "datum.k==='cc'"}], "mark": {"type": "text", "text": "/C", "font": "Liberation Serif", "fontStyle": "italic", "fontSize": 14, "align": "left", "baseline": "alphabetic", "color": "#222", "dx": 15}},
{"transform": [{"filter": "datum.k==='cc'"}], "mark": {"type": "text", "text": "G", "font": "Liberation Serif", "fontStyle": "italic", "fontSize": 10, "align": "left", "baseline": "alphabetic", "color": "#222", "dx": 27, "dy": 4}},
{"transform": [{"filter": "datum.k==='cc'"}], "mark": {"type": "text", "font": "Liberation Serif", "fontStyle": "italic", "fontSize": 14, "align": "left", "baseline": "alphabetic", "color": "#222", "dx": 34}, "encoding": {"text": {"field": "v", "type": "nominal"}}}
]
}
}
]
}
